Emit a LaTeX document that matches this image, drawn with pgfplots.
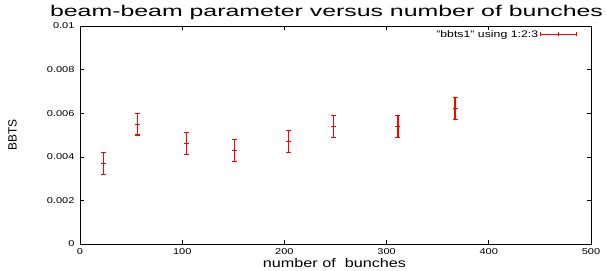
\documentclass[border=0pt]{standalone}
\usepackage{fontspec}
\setmainfont{Liberation Sans}[FakeStretch=1.3]
\newfontfamily\titlefont{Liberation Sans}[FakeStretch=1.6]
\newfontfamily\plainfont{Liberation Sans}
\usepackage{pgfplots}
\pgfplotsset{compat=1.18}
\definecolor{gpred}{RGB}{255,0,0}
\begin{document}
\begin{tikzpicture}
\path[use as bounding box] (-80bp,-27bp) rectangle (527bp,244bp);
\begin{axis}[
  at={(0,0)}, anchor=south west,
  scale only axis, width=511bp, height=218bp,
  xmin=0, xmax=500, ymin=0, ymax=0.01,
  xtick={0,100,200,300,400,500},
  xticklabels={0,100,200,300,400,500},
  ytick={0,0.002,0.004,0.006,0.008,0.01},
  yticklabels={0,0.002,0.004,0.006,0.008,0.01},
  scaled y ticks=false,
  tick align=inside,
  major tick length=4bp,
  tick style={black, line width=0.6pt},
  axis line style={black, line width=0.8pt},
  ticklabel style={font=\fontsize{8.5}{9}\selectfont},
  yticklabel style={xshift=-2bp},
  xticklabel style={yshift=-1bp},
  xlabel={number of \ bunches},
  ylabel={BBTS},
  xlabel style={at={(axis description cs:0.498,-0.11)}, anchor=base, font=\fontsize{12.5}{14}\selectfont},
  ylabel style={at={(axis description cs:-0.132,0.5)}, anchor=center, font=\plainfont\fontsize{12}{14}\selectfont},
  legend plot pos=right,
  legend style={at={(axis description cs:1,1)}, anchor=north east, xshift=-14bp, yshift=-2bp,
    draw=none, fill=none, inner sep=0pt, font=\fontsize{9.5}{10}\selectfont},
  legend image code/.code={
    \draw[gpred, line width=0.6pt] (0bp,0bp) -- (36bp,0bp);
    \draw[gpred, line width=0.6pt] (0bp,-2bp) -- (0bp,2bp);
    \draw[gpred, line width=0.6pt] (36bp,-2bp) -- (36bp,2bp);
    \draw[gpred, line width=0.6pt] (18bp,-2bp) -- (18bp,2bp);
  },
  error bars/error bar style={draw=gpred, line width=1.4pt},
]
\addplot[gpred, mark=+, only marks, mark size=2.5bp,
  mark options={gpred, line width=0.9pt},
  error bars/.cd, y dir=both, y explicit,
  error mark options={gpred, rotate=90, mark size=2.5bp, line width=1.1pt}]
  table[x=x, y=y, y error=e] {
  x     y       e
  23    0.0037  0.0005
  56    0.0055  0.0005
  104   0.0046  0.0005
  151   0.0043  0.0005
  204   0.0047  0.0005
  248   0.0054  0.0005
  311   0.0054  0.0005
  367   0.0062  0.0005
  };
\addlegendentry{"bbts1" using 1:2:3}
\end{axis}
\node[anchor=base, font=\titlefont\fontsize{15.6}{18}\selectfont] at (246.5bp,227bp) {beam-beam parameter versus number of bunches};
\end{tikzpicture}
\end{document}
